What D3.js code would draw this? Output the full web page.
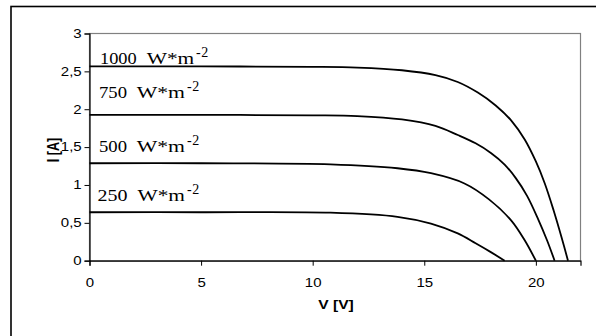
<!DOCTYPE html>
<html>
<head>
<meta charset="utf-8">
<script src="https://cdn.jsdelivr.net/npm/d3@7"></script>
<style>
  html, body { margin: 0; padding: 0; background: #fff; }
  svg { display: block; }
</style>
</head>
<body>
<svg id="chart" width="596" height="336"></svg>
<script>
// ---- data ----
const irradiance = ["1000", "750", "500", "250"];

const V1000 = [0, 5, 10, 12, 14, 15.5, 16.5, 17.4, 18.2, 18.9, 19.5, 20.0, 20.4, 20.8, 21.15, 21.44];
const I1000 = [2.565, 2.565, 2.56, 2.55, 2.515, 2.45, 2.36, 2.22, 2.05, 1.85, 1.60, 1.31, 1.02, 0.66, 0.31, 0];

const V750 = [0, 5, 10, 12, 14, 15.5, 16.5, 17.3, 18.0, 18.6, 19.1, 19.6, 20.1, 20.5, 20.84];
const I750 = [1.925, 1.925, 1.92, 1.91, 1.865, 1.78, 1.66, 1.55, 1.42, 1.27, 1.09, 0.86, 0.55, 0.27, 0];

const V500 = [0, 5, 10.8, 13.8, 15.3, 16.8, 17.9, 18.9, 19.5, 20.0];
const I500 = [1.287, 1.287, 1.273, 1.221, 1.155, 1.02, 0.81, 0.53, 0.27, 0];

const V250 = [0, 5, 10.8, 13.8, 15.3, 16.5, 17.3, 18.0, 18.6];
const I250 = [0.64, 0.64, 0.634, 0.58, 0.49, 0.36, 0.23, 0.11, 0];

const xTicks = [0, 5, 10, 15, 20];
const yTicks = [0, 0.5, 1, 1.5, 2, 2.5, 3];
const xTitle = "V [V]";
const yTitle = "I [A]";

const seriesV = [V1000, V750, V500, V250];
const seriesI = [I1000, I750, I500, I250];

// ---- layout ----
const plot = { left: 89.5, top: 33.5, right: 580.5, bottom: 260.7 };
// label pieces: [numX0, numX1, unitX0, unitX1, supX0, baseline]
const labelLayout = [
  [100, 136.7, 146.7, 194.3, 196, 64],
  [99, 127, 136.7, 185, 187, 98.3],
  [99, 127, 136.7, 185, 187, 151.6],
  [97.5, 127.5, 137.5, 185, 187, 200.7]
];

const svg = d3.select("#chart");

const x = d3.scaleLinear().domain([0, 22]).range([plot.left, plot.right]);
const y = d3.scaleLinear().domain([0, 3]).range([plot.bottom, plot.top]);

// outer chart frame
svg.append("rect")
  .attr("x", 11).attr("y", 6.5)
  .attr("width", 600).attr("height", 400)
  .attr("fill", "#fff")
  .attr("stroke", "#000").attr("stroke-width", 1.6);

// plot area border (gray)
svg.append("rect")
  .attr("x", plot.left).attr("y", plot.top)
  .attr("width", plot.right - plot.left).attr("height", plot.bottom - plot.top)
  .attr("fill", "#fff")
  .attr("stroke", "#808080").attr("stroke-width", 1.2);

const sx = 1.25; // horizontal stretch of sans text

// y axis
const yAxis = svg.append("g")
  .attr("transform", `translate(${plot.left},0)`)
  .call(d3.axisLeft(y).tickValues(yTicks).tickSize(5)
    .tickFormat(d => String(d).replace(".", ",")));
yAxis.select(".domain").attr("stroke", "#000").attr("stroke-width", 1.2);
yAxis.selectAll(".tick line").attr("stroke", "#000");
yAxis.selectAll(".tick text")
  .attr("font-family", "Liberation Sans, Arial, sans-serif")
  .attr("font-size", 12)
  .attr("fill", "#000")
  .attr("x", -7.8 / sx)
  .attr("transform", `scale(${sx},1)`);

// x axis
const xAxis = svg.append("g")
  .attr("transform", `translate(0,${plot.bottom})`)
  .call(d3.axisBottom(x).tickValues(xTicks).tickSize(5).tickPadding(12.5)
    .tickFormat(d3.format("d")));
xAxis.select(".domain").attr("stroke", "#000").attr("stroke-width", 1.2);
xAxis.selectAll(".tick line").attr("stroke", "#000");
xAxis.selectAll(".tick text")
  .attr("font-family", "Liberation Sans, Arial, sans-serif")
  .attr("font-size", 12)
  .attr("fill", "#000")
  .attr("transform", `scale(${sx},1)`);

// curves
const line = d3.line()
  .x(d => x(d[0]))
  .y(d => y(d[1]))
  .curve(d3.curveCatmullRom.alpha(0.5));

seriesV.forEach((vs, k) => {
  const pts = vs.map((v, i) => [v, seriesI[k][i]]);
  svg.append("path")
    .datum(pts)
    .attr("d", line)
    .attr("fill", "none")
    .attr("stroke", "#000")
    .attr("stroke-width", 1.8);
});

// series labels
irradiance.forEach((lab, k) => {
  const L = labelLayout[k];
  const g = svg.append("g")
    .attr("font-family", "Liberation Serif, Times New Roman, serif")
    .attr("fill", "#000");
  g.append("text")
    .attr("x", L[0]).attr("y", L[5])
    .attr("font-size", 17)
    .attr("textLength", L[1] - L[0]).attr("lengthAdjust", "spacingAndGlyphs")
    .text(lab);
  g.append("text")
    .attr("x", L[2]).attr("y", L[5])
    .attr("font-size", 17)
    .attr("textLength", L[3] - L[2]).attr("lengthAdjust", "spacingAndGlyphs")
    .text("W*m");
  g.append("text")
    .attr("x", L[4]).attr("y", L[5] - 7)
    .attr("font-size", 14)
    .attr("letter-spacing", 0.5)
    .text("-2");
});

// axis titles
svg.append("text")
  .attr("transform", `translate(${(plot.left + plot.right) / 2 + 1},309) scale(${sx},1)`)
  .attr("text-anchor", "middle")
  .attr("font-family", "Liberation Sans, Arial, sans-serif")
  .attr("font-size", 12.5)
  .attr("font-weight", "bold")
  .text(xTitle);

svg.append("text")
  .attr("transform", `translate(58.5,150) rotate(-90) scale(1,${sx})`)
  .attr("text-anchor", "middle")
  .attr("font-family", "Liberation Sans, Arial, sans-serif")
  .attr("font-size", 12.5)
  .attr("font-weight", "bold")
  .text(yTitle);
</script>
</body>
</html>
